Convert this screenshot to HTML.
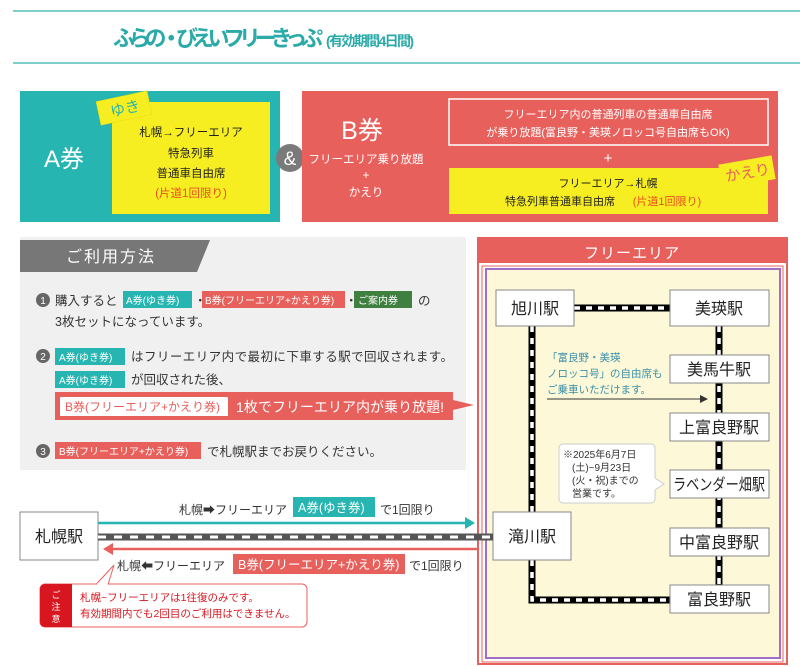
<!DOCTYPE html>
<html><head><meta charset="utf-8"><style>
html,body{margin:0;padding:0;background:#fff;}
svg{display:block;font-family:"Liberation Sans","Noto Sans CJK JP",sans-serif;}
</style></head><body>
<svg width="800" height="667" viewBox="0 0 800 667" xmlns="http://www.w3.org/2000/svg">
<!-- title -->
<line x1="13" y1="11" x2="800" y2="11" stroke="#7ecfcc" stroke-width="2"/>
<line x1="13" y1="63" x2="800" y2="63" stroke="#7ecfcc" stroke-width="2"/>
<text x="113" y="46" font-size="22" font-weight="bold" fill="#2aaaa8" textLength="210">ふらの・びえいフリーきっぷ</text>
<text x="326" y="46" font-size="14" font-weight="bold" fill="#2aaaa8" textLength="88">(有効期間4日間)</text>

<!-- A ticket -->
<rect x="20" y="91" width="260" height="131" fill="#26b5b0"/>
<rect x="112" y="102" width="158" height="112" fill="#f7ee22"/>
<g transform="rotate(-12 124 108)"><rect x="98" y="96" width="52" height="24" fill="#f7ee22" stroke="#e6dc10" stroke-width="0.5"/><text x="110" y="114" font-size="15" fill="#26b5b0">ゆき</text></g>
<text x="44" y="167" font-size="24" fill="#fff">A券</text>
<g font-size="11.5" fill="#222" text-anchor="middle">
<text x="191" y="136">札幌→フリーエリア</text>
<text x="191" y="157">特急列車</text>
<text x="191" y="177">普通車自由席</text>
<text x="191" y="197" fill="#e8501e">(片道1回限り)</text>
</g>
<circle cx="290" cy="158" r="14" fill="#7a7a7a"/>
<text x="290" y="165" font-size="19" fill="#fff" text-anchor="middle">&amp;</text>

<!-- B ticket -->
<rect x="302" y="91" width="476" height="131" fill="#e8605c"/>
<text x="362" y="139" font-size="25" fill="#fff" text-anchor="middle">B券</text>
<g font-size="11.5" fill="#fff" text-anchor="middle">
<text x="366" y="163">フリーエリア乗り放題</text>
<text x="366" y="179">+</text>
<text x="366" y="196">かえり</text>
</g>
<rect x="449" y="99" width="319" height="46" fill="none" stroke="#fff" stroke-width="1.5"/>
<g font-size="11" fill="#fff" text-anchor="middle">
<text x="608" y="118">フリーエリア内の普通列車の普通車自由席</text>
<text x="608" y="136">が乗り放題(富良野・美瑛ノロッコ号自由席もOK)</text>
<text x="608" y="163" font-size="15">+</text>
</g>
<rect x="449" y="168" width="319" height="46" fill="#f7ee22"/>
<g font-size="11" fill="#222" text-anchor="middle">
<text x="608" y="187">フリーエリア→札幌</text>
<text x="560" y="205">特急列車普通車自由席</text>
<text x="667" y="205" fill="#e8501e">(片道1回限り)</text>
</g>
<g transform="rotate(-10 746 172)"><rect x="720" y="160" width="54" height="24" fill="#f7ee22"/><text x="725" y="178" font-size="15" fill="#e8605c">かえり</text></g>

<!-- usage panel -->
<rect x="20" y="237" width="446" height="233" fill="#f0f0f0"/>
<polygon points="20,240 210,240 197,272 20,272" fill="#777"/>
<text x="66" y="262" font-size="16" fill="#fff" letter-spacing="2">ご利用方法</text>

<g font-size="12.5" fill="#333">
<circle cx="43" cy="300" r="7" fill="#666"/><text x="43" y="304" font-size="10" fill="#fff" text-anchor="middle">1</text>
<text x="55" y="305">購入すると</text>
<rect x="123" y="291" width="69" height="17" fill="#26b5b0"/><text x="126" y="304" font-size="10" fill="#fff">A券(ゆき券)</text>
<text x="194" y="305">・</text>
<rect x="202" y="291" width="143" height="17" fill="#e8605c"/><text x="205" y="304" font-size="10" fill="#fff">B券(フリーエリア+かえり券)</text>
<text x="345" y="305">・</text>
<rect x="354" y="291" width="58" height="17" fill="#3f7f3f"/><text x="358" y="304" font-size="10" fill="#fff">ご案内券</text>
<text x="418" y="305">の</text>
<text x="55" y="326">3枚セットになっています。</text>

<circle cx="43" cy="356" r="7" fill="#666"/><text x="43" y="360" font-size="10" fill="#fff" text-anchor="middle">2</text>
<rect x="55" y="348" width="70" height="17" fill="#26b5b0"/><text x="59" y="361" font-size="10" fill="#fff">A券(ゆき券)</text>
<text x="131" y="361" textLength="322">はフリーエリア内で最初に下車する駅で回収されます。</text>
<rect x="55" y="371" width="70" height="17" fill="#26b5b0"/><text x="59" y="384" font-size="10" fill="#fff">A券(ゆき券)</text>
<text x="131" y="384">が回収された後、</text>

<polygon points="55,392 453,392 453,400 474,405 453,410 453,420 55,420" fill="#e8605c"/>
<rect x="60" y="397" width="168" height="19" fill="#fff"/>
<text x="65" y="411" font-size="12" fill="#e8605c">B券(フリーエリア+かえり券)</text>
<text x="236" y="412" font-size="14" fill="#fff" textLength="208">1枚でフリーエリア内が乗り放題!</text>

<circle cx="43" cy="451" r="7" fill="#666"/><text x="43" y="455" font-size="10" fill="#fff" text-anchor="middle">3</text>
<rect x="55" y="442" width="146" height="17" fill="#e8605c"/><text x="59" y="455" font-size="10" fill="#fff">B券(フリーエリア+かえり券)</text>
<text x="207" y="456">で札幌駅までお戻りください。</text>
</g>

<!-- free area -->
<rect x="478" y="238" width="309" height="426" fill="#fff" stroke="#e8605c" stroke-width="2"/>
<rect x="478" y="238" width="309" height="25" fill="#e8605c"/>
<text x="632" y="258" font-size="15" fill="#fff" text-anchor="middle" letter-spacing="1">フリーエリア</text>
<rect x="482" y="266" width="301" height="396" fill="none" stroke="#e8605c" stroke-width="1"/>
<rect x="486" y="269" width="294" height="389" fill="#fdf8d8" stroke="#a070c8" stroke-width="2"/>

<!-- tracks -->
<g fill="none">
<path d="M574 308 H670 M719 326 V585 M532 326 V512 M532 560 V600 H670" stroke="#000" stroke-width="7"/>
<path d="M574 308 H670 M719 326 V585 M532 326 V512 M532 560 V600 H670" stroke="#fff" stroke-width="3.5" stroke-dasharray="6 6"/>
</g>

<!-- note -->
<g font-size="10.5" fill="#3a8fa8">
<text x="547" y="361">「富良野・美瑛</text>
<text x="547" y="377">ノロッコ号」の自由席も</text>
<text x="547" y="393">ご乗車いただけます。</text>
</g>
<line x1="547" y1="399" x2="702" y2="399" stroke="#333" stroke-width="1"/>
<polygon points="708,399 700,395 700,403" fill="#333"/>

<path d="M563 444 H651 a4 4 0 0 1 4 4 V478 L664 484 L655 490 V499 a4 4 0 0 1 -4 4 H563 a4 4 0 0 1 -4 -4 V448 a4 4 0 0 1 4 -4 Z" fill="#fff" stroke="#ccc" stroke-width="1"/>
<g font-size="10" fill="#333">
<text x="563" y="458">※2025年6月7日</text>
<text x="572" y="471">(土)~9月23日</text>
<text x="572" y="484">(火・祝)までの</text>
<text x="572" y="497">営業です。</text>
</g>

<!-- stations -->
<g fill="#fff" stroke="#888" stroke-width="1">
<rect x="496" y="290" width="78" height="36"/>
<rect x="670" y="290" width="99" height="36"/>
<rect x="670" y="355" width="99" height="28"/>
<rect x="670" y="413" width="99" height="28"/>
<rect x="670" y="470" width="99" height="28"/>
<rect x="670" y="528" width="99" height="28"/>
<rect x="670" y="585" width="99" height="28"/>
<rect x="493" y="512" width="78" height="48"/>
<rect x="20" y="512" width="78" height="48"/>
</g>
<g font-size="16" fill="#222" text-anchor="middle">
<text x="535" y="314">旭川駅</text>
<text x="719" y="314">美瑛駅</text>
<text x="719" y="375">美馬牛駅</text>
<text x="719" y="433">上富良野駅</text>
<text x="719" y="490" textLength="92" lengthAdjust="spacingAndGlyphs">ラベンダー畑駅</text>
<text x="719" y="548">中富良野駅</text>
<text x="719" y="605">富良野駅</text>
<text x="532" y="542">滝川駅</text>
<text x="59" y="542">札幌駅</text>
</g>

<!-- bottom line -->
<line x1="98" y1="537" x2="493" y2="537" stroke="#555" stroke-width="7"/>
<line x1="98" y1="537" x2="493" y2="537" stroke="#fff" stroke-width="3" stroke-dasharray="8 8"/>
<line x1="98" y1="523" x2="466" y2="523" stroke="#26b5b0" stroke-width="2.5"/>
<polygon points="475,523 465,517 465,529" fill="#26b5b0"/>
<line x1="112" y1="549" x2="478" y2="549" stroke="#e8605c" stroke-width="2.5"/>
<polygon points="103,549 113,543 113,555" fill="#e8605c"/>

<g font-size="12" fill="#333">
<text x="179" y="514">札幌➡フリーエリア</text>
<rect x="293" y="497" width="82" height="20" fill="#26b5b0"/><text x="298" y="512" font-size="12.5" fill="#fff">A券(ゆき券)</text>
<text x="380" y="514">で1回限り</text>
<text x="117" y="570">札幌⬅フリーエリア</text>
<rect x="233" y="554" width="172" height="20" fill="#e8605c"/><text x="238" y="569" font-size="12.5" fill="#fff">B券(フリーエリア+かえり券)</text>
<text x="409" y="570">で1回限り</text>
</g>

<!-- caution -->
<rect x="40" y="584" width="267" height="43" rx="5" fill="#fff" stroke="#e8605c" stroke-width="1"/>
<path d="M96 584.5 L114 565 L108 584.5" fill="#fff" stroke="#e8605c" stroke-width="1"/>
<rect x="97" y="583.5" width="10" height="2" fill="#fff"/>
<path d="M72 584 H45 a5 5 0 0 0 -5 5 V622 a5 5 0 0 0 5 5 H72 Z" fill="#d7161f"/>
<g font-size="9" fill="#fff" text-anchor="middle"><text x="56" y="598">ご</text><text x="56" y="610">注</text><text x="56" y="622">意</text></g>
<g font-size="10.5" fill="#d7161f">
<text x="80" y="601">札幌~フリーエリアは1往復のみです。</text>
<text x="80" y="617">有効期間内でも2回目のご利用はできません。</text>
</g>
</svg>
</body></html>
